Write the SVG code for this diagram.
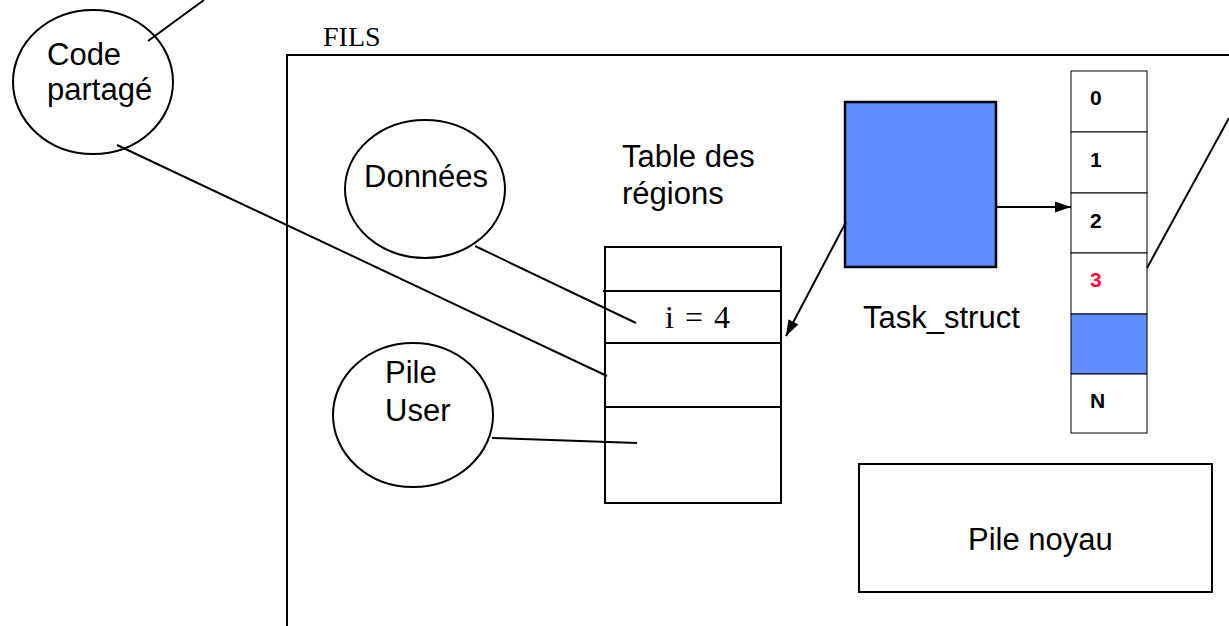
<svg xmlns="http://www.w3.org/2000/svg" width="1229" height="626" viewBox="0 0 1229 626">
  <defs>
    <style>
      .ln { stroke: #000; stroke-width: 2; fill: none; }
      .shape { stroke: #000; stroke-width: 2; fill: #fff; }
      .sans { font-family: "Liberation Sans", Arial, sans-serif; font-size: 31px; fill: #000; }
      .serif { font-family: "Liberation Serif", "Times New Roman", serif; fill: #000; }
      .idx { font-family: "Liberation Sans", Arial, sans-serif; font-size: 21px; font-weight: bold; fill: #000; }
      .cell { stroke: #000; stroke-width: 1; fill: #fff; }
      .blue { fill: #5F8DFF; }
    </style>
    <marker id="arrowL" viewBox="0 0 10 10" refX="10" refY="5" markerWidth="16" markerHeight="16" markerUnits="userSpaceOnUse" orient="auto">
      <path d="M0,1.5 L10,5 L0,8.5 z" fill="#000"/>
    </marker>
  </defs>

  <rect width="1229" height="626" fill="#fff"/>

  <!-- process frame -->
  <g id="fils">
    <text class="serif" x="323" y="46" font-size="28">FILS</text>
    <path class="ln" d="M287,626 V55 H1229"/>
  </g>

  <g id="code-partage">
    <ellipse class="shape" cx="93" cy="82" rx="80" ry="72"/>
    <text class="sans" x="47" y="65">Code</text>
    <text class="sans" x="47" y="100">partagé</text>
  </g>

  <g id="donnees">
    <ellipse class="shape" cx="425" cy="189" rx="80" ry="69"/>
    <text class="sans" x="364" y="187">Données</text>
  </g>

  <g id="pile-user">
    <ellipse class="shape" cx="413" cy="415" rx="80" ry="72"/>
    <text class="sans" x="385" y="383">Pile</text>
    <text class="sans" x="385" y="421">User</text>
  </g>

  <g id="table-regions">
    <text class="sans" x="622" y="167">Table des</text>
    <text class="sans" x="622" y="204">régions</text>
    <rect class="shape" x="605" y="247" width="176" height="256"/>
    <line class="ln" x1="603" y1="291" x2="781" y2="291"/>
    <line class="ln" x1="605" y1="343" x2="781" y2="343"/>
    <line class="ln" x1="605" y1="407" x2="781" y2="407"/>
    <text class="serif" y="328" font-size="32"><tspan x="665">i</tspan><tspan x="685">=</tspan><tspan x="714">4</tspan></text>
  </g>

  <g id="task-struct">
    <rect x="845" y="102" width="151" height="165" class="blue" stroke="#000" stroke-width="2.5"/>
    <text class="sans" x="863" y="328">Task_struct</text>
  </g>

  <g id="fd-table">
    <rect class="cell" x="1071" y="71" width="76" height="61"/>
    <rect class="cell" x="1071" y="132" width="76" height="61"/>
    <rect class="cell" x="1071" y="193" width="76" height="60"/>
    <rect class="cell" x="1071" y="253" width="76" height="61"/>
    <rect class="cell blue" x="1071" y="314" width="76" height="60"/>
    <rect class="cell" x="1071" y="374" width="76" height="59"/>
    <text class="idx" x="1090" y="105">0</text>
    <text class="idx" x="1090" y="167">1</text>
    <text class="idx" x="1090" y="228">2</text>
    <text class="idx" x="1090" y="287" style="fill:#FF0A3C">3</text>
    <text class="idx" x="1090" y="408">N</text>
  </g>

  <g id="pile-noyau">
    <rect class="shape" x="859" y="464" width="353" height="128"/>
    <text class="sans" x="968" y="550">Pile noyau</text>
  </g>

  <!-- links between nodes -->
  <g id="connectors">
    <line class="ln" x1="148" y1="41" x2="204" y2="0"/>
    <line class="ln" x1="117" y1="145" x2="607" y2="376"/>
    <line class="ln" x1="475" y1="246" x2="636" y2="323"/>
    <line class="ln" x1="492" y1="438" x2="637" y2="443"/>
    <line class="ln" x1="846" y1="222" x2="786" y2="336" marker-end="url(#arrowL)"/>
    <line class="ln" x1="996" y1="207" x2="1071" y2="207" marker-end="url(#arrowL)"/>
    <line class="ln" x1="1147" y1="268" x2="1229" y2="118"/>
  </g>
</svg>
